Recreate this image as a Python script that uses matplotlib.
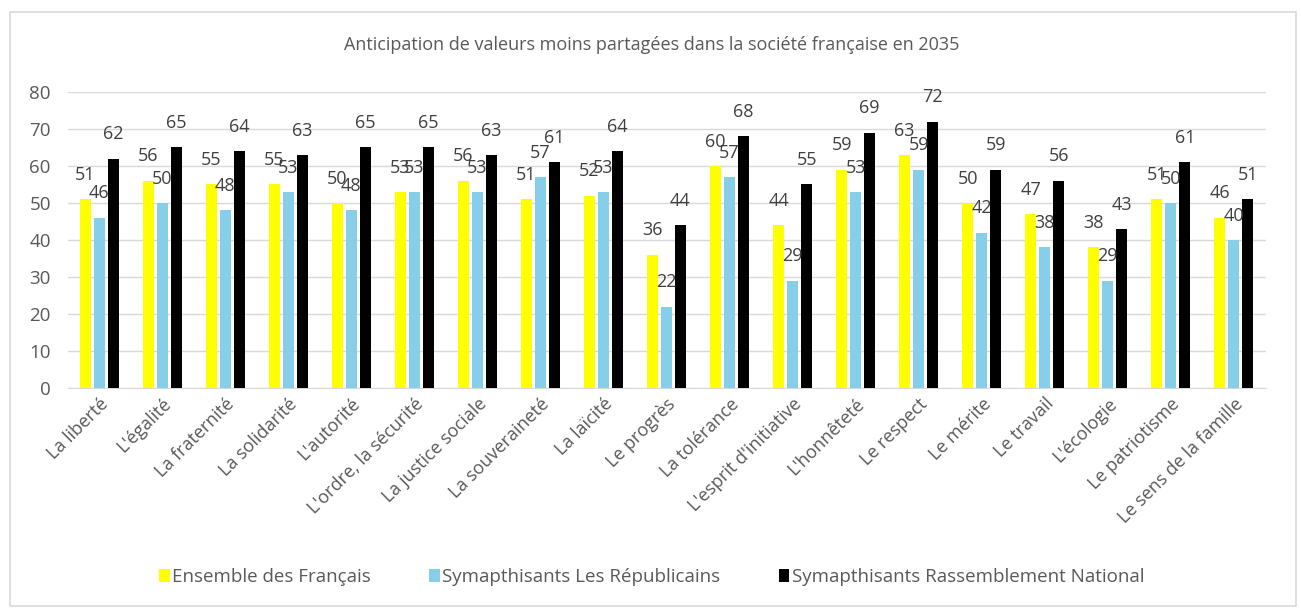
import matplotlib
matplotlib.use("Agg")
import matplotlib.pyplot as plt
import numpy as np
from matplotlib.patches import Rectangle

categories = ["La liberté", "L'égalité", "La fraternité", "La solidarité", "L'autorité",
              "L'ordre, la sécurité", "La justice sociale", "La souveraineté", "La laïcité",
              "Le progrès", "La tolérance", "L'esprit d'initiative", "L'honnêteté", "Le respect",
              "Le mérite", "Le travail", "L'écologie", "Le patriotisme", "Le sens de la famille"]
ensemble = [51, 56, 55, 55, 50, 53, 56, 51, 52, 36, 60, 44, 59, 63, 50, 47, 38, 51, 46]
republicains = [46, 50, 48, 53, 48, 53, 53, 57, 53, 22, 57, 29, 53, 59, 42, 38, 29, 50, 40]
rn = [62, 65, 64, 63, 65, 65, 63, 61, 64, 44, 68, 55, 69, 72, 59, 56, 43, 61, 51]
series_names = ["Ensemble des Français", "Symapthisants Les Républicains",
                "Symapthisants Rassemblement National"]
colors = ["#FFFF00", "#87CEEB", "#000000"]
title = "Anticipation de valeurs moins partagées dans la société française en 2035"

plt.rcParams['font.family'] = ['Open Sans', 'DejaVu Sans']
text_color = "#595959"

fig = plt.figure(figsize=(13.01, 6.10), dpi=100)
fig.patches.append(Rectangle((10/1301, 1 - 606/610), 1286/1301, 594/610,
                             transform=fig.transFigure, fill=False,
                             edgecolor="#d9d9d9", linewidth=1.2))
ax = fig.add_axes([67.5/1301, 1 - 388/610, 1198/1301, 296/610])

x = np.arange(len(categories))
width = 0.175
step = 0.222
for i, (vals, col, name) in enumerate(zip([ensemble, republicains, rn], colors, series_names)):
    pos = x + (i - 1) * step
    bars = ax.bar(pos, vals, width=width, color=col, label=name, zorder=3)
    for b, v in zip(bars, vals):
        ax.annotate(str(v), (b.get_x() + b.get_width() / 2, v), xytext=(0, 17.5),
                    textcoords="offset points", ha="center", va="center",
                    fontsize=13, color="#404040", zorder=4)

ax.set_xlim(-0.5, len(categories) - 0.5)
ax.set_ylim(0, 80)
ax.set_yticks(range(0, 81, 10))
ax.yaxis.grid(True, color="#d9d9d9", linewidth=1, zorder=0)
ax.set_axisbelow(True)
for s in ["top", "right", "left"]:
    ax.spines[s].set_visible(False)
ax.spines["bottom"].set_color("#d9d9d9")
ax.tick_params(axis="y", length=0, labelsize=13.5, labelcolor=text_color, pad=12)
ax.tick_params(axis="x", length=0, labelsize=13, labelcolor=text_color, pad=5)
ax.set_xticks(x)
ax.set_xticklabels(categories, rotation=45, ha="right", rotation_mode="anchor")

fig.text(0.501, 1 - 45/610, title, ha="center", va="center", fontsize=13, color=text_color)

leg = fig.legend(loc="center", bbox_to_anchor=(0.501, 1 - 577/610), ncol=3, frameon=False,
                 fontsize=13.5, handlelength=0.55, handleheight=0.75, handletextpad=0.15,
                 columnspacing=3.1)
for t in leg.get_texts():
    t.set_color(text_color)

fig.savefig("out.png", dpi=100)
